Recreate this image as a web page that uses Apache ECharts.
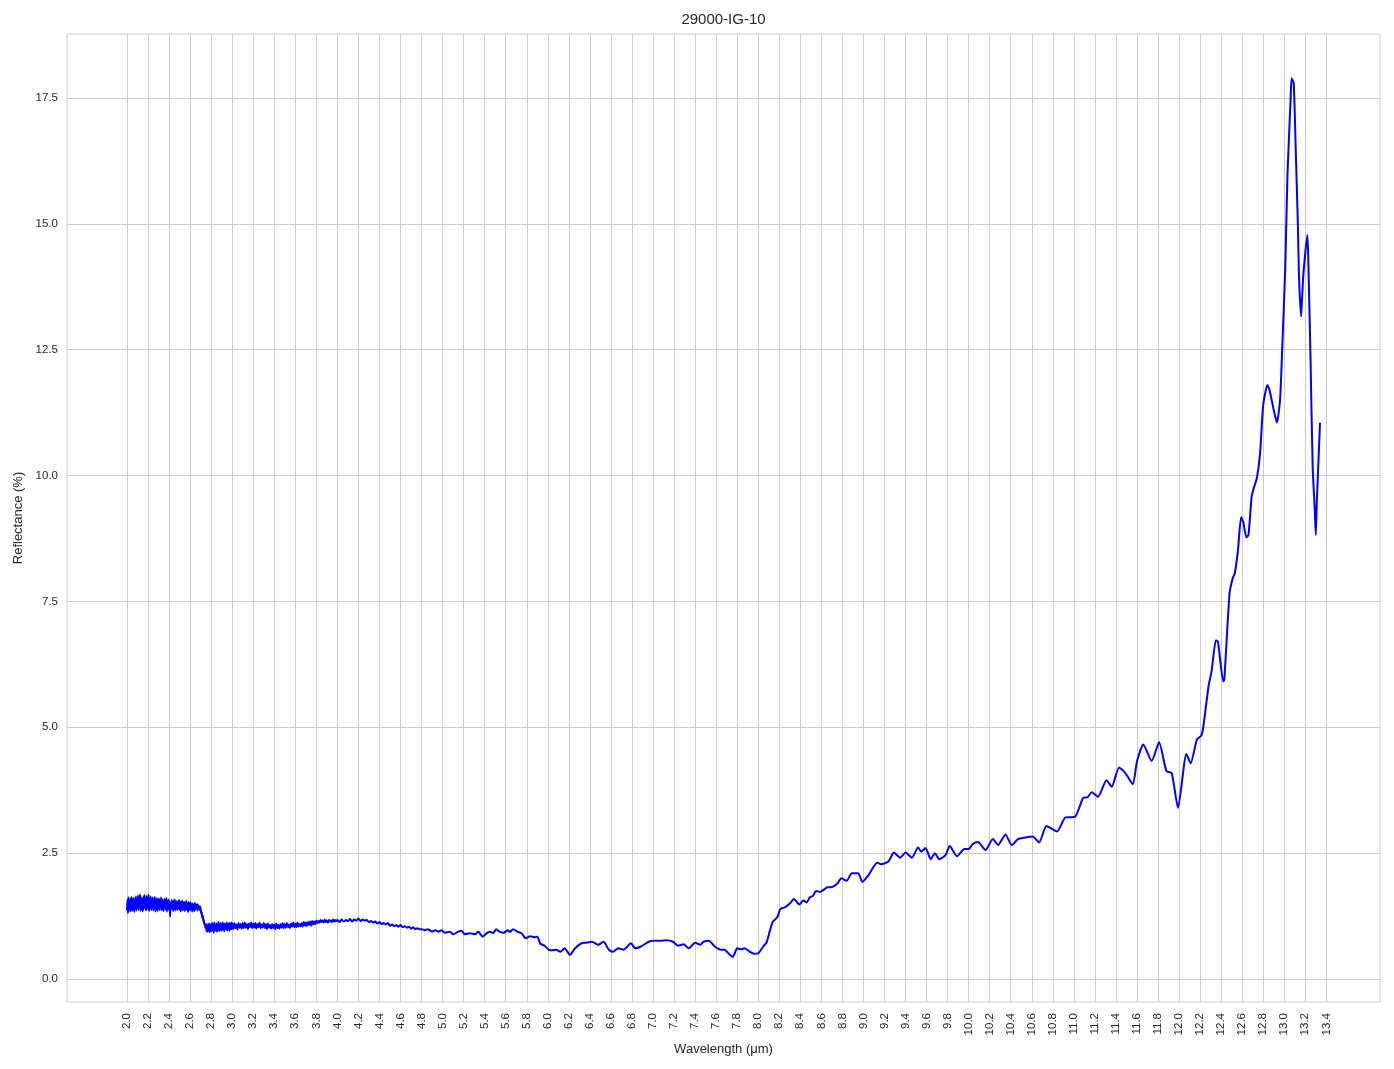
<!DOCTYPE html>
<html>
<head>
<meta charset="utf-8">
<script src="https://cdn.jsdelivr.net/npm/echarts@6/dist/echarts.min.js"></script>
<style>html,body{margin:0;padding:0;background:#fff}#c{width:1394px;height:1069px}</style>
</head>
<body>
<div id="c"></div>
<script>
const titleText = "29000-IG-10";
const xName = "Wavelength (μm)";
const yName = "Reflectance (%)";
const xTicks = [2.0,2.2,2.4,2.6,2.8,3.0,3.2,3.4,3.6,3.8,4.0,4.2,4.4,4.6,4.8,5.0,5.2,5.4,5.6,5.8,6.0,6.2,6.4,6.6,6.8,7.0,7.2,7.4,7.6,7.8,8.0,8.2,8.4,8.6,8.8,9.0,9.2,9.4,9.6,9.8,10.0,10.2,10.4,10.6,10.8,11.0,11.2,11.4,11.6,11.8,12.0,12.2,12.4,12.6,12.8,13.0,13.2,13.4];
const yTicks = [0.0,2.5,5.0,7.5,10.0,12.5,15.0,17.5];

const wlAStart = 2.0, wlAStep = 0.005;
const refA = [
1.36,1.58,1.31,1.62,1.40,1.55,1.34,1.60,1.38,1.63,
1.35,1.57,1.42,1.61,1.33,1.56,1.39,1.64,1.36,1.59,
1.41,1.66,1.37,1.60,1.44,1.68,1.35,1.62,1.40,1.57,
1.34,1.63,1.39,1.67,1.42,1.59,1.36,1.65,1.38,1.61,
1.43,1.68,1.35,1.60,1.40,1.64,1.37,1.58,1.44,1.62,
1.36,1.59,1.41,1.63,1.34,1.57,1.39,1.61,1.35,1.56,
1.40,1.60,1.37,1.55,1.42,1.62,1.36,1.58,1.39,1.54,
1.35,1.59,1.41,1.56,1.38,1.61,1.34,1.55,1.40,1.58,
1.37,1.54,1.24,1.50,1.38,1.57,1.41,1.53,1.35,1.56,
1.39,1.58,1.36,1.52,1.42,1.55,1.37,1.51,1.40,1.57,
1.38,1.54,1.34,1.50,1.41,1.56,1.36,1.52,1.39,1.53,
1.35,1.51,1.40,1.55,1.37,1.49,1.33,1.53,1.38,1.50,
1.36,1.52,1.40,1.48,1.34,1.50,1.39,1.47,1.35,1.51,
1.38,1.46,1.41,1.49,1.36,1.47,1.40,1.45,1.37,1.44,
1.40,1.30,1.33,1.22,1.26,1.15,1.18,1.08,1.10,1.02,
1.06,0.95,1.09,0.94,1.05,0.97,1.10,0.93,1.06,0.96,
1.09,0.95,1.11,0.98,1.07,0.92,1.12,0.97,1.05,0.96,
1.10,0.94,1.08,0.99,1.13,0.95,1.06,0.98,1.11,0.96,
1.07,0.97,1.12,0.99,1.09,0.95,1.10,1.00,1.08,0.98,
1.12,0.97,1.07,1.01,1.11,0.96,1.09,1.00,1.12,0.99];

// 3.00 - 3.99, sampled every 0.01 µm
const wlBStart = 3.0, wlBStep = 0.01;
const refB = [
1.10,0.99,1.11,1.01,1.08,0.98,1.11,1.02,1.09,1.00,
1.11,1.01,1.12,1.02,1.09,0.99,1.10,1.03,1.12,1.01,
1.10,1.02,1.11,1.00,1.09,1.03,1.12,1.01,1.08,1.02,
1.11,1.01,1.09,0.99,1.10,1.02,1.07,1.00,1.09,1.01,
1.08,0.99,1.10,1.01,1.07,1.00,1.09,1.02,1.11,1.01,
1.09,1.02,1.11,1.03,1.08,1.01,1.10,1.04,1.12,1.03,
1.10,1.03,1.12,1.04,1.09,1.05,1.11,1.04,1.13,1.06,
1.12,1.05,1.13,1.07,1.14,1.06,1.15,1.08,1.14,1.09,
1.16,1.11,1.15,1.12,1.17,1.13,1.16,1.12,1.18,1.13,
1.16,1.12,1.17,1.14,1.16,1.13,1.18,1.14,1.17,1.15];

// 4.00 - 4.78, sampled every 0.02 µm
const wlCStart = 4.0, wlCStep = 0.02;
const refC = [
1.17,1.13,1.18,1.14,1.17,1.15,1.19,1.14,1.18,1.16,
1.20,1.15,1.18,1.16,1.17,1.13,1.15,1.12,1.14,1.10,
1.13,1.09,1.11,1.08,1.11,1.06,1.08,1.05,1.07,1.04,
1.07,1.03,1.05,1.02,1.04,1.00,1.03,0.99,1.01,0.99];

// 4.80 - 13.34, irregular points
const wlD = [4.80,4.83,4.86,4.90,4.93,4.96,4.99,5.02,5.07,5.10,5.15,5.18,5.21,5.26,5.31,5.34,5.38,5.42,5.45,5.48,5.51,5.54,5.58,5.62,5.64,5.67,5.71,5.75,5.79,5.83,5.88,5.90,5.93,5.97,6.01,6.04,6.08,6.12,6.16,6.21,6.26,6.32,6.37,6.42,6.48,6.53,6.58,6.62,6.67,6.72,6.79,6.83,6.88,6.96,7.00,7.07,7.13,7.19,7.24,7.29,7.34,7.40,7.45,7.48,7.53,7.59,7.65,7.68,7.73,7.76,7.80,7.84,7.87,7.92,7.96,8.00,8.05,8.08,8.11,8.14,8.18,8.21,8.25,8.30,8.34,8.39,8.43,8.46,8.49,8.52,8.55,8.59,8.66,8.69,8.75,8.79,8.84,8.89,8.95,8.99,9.05,9.13,9.17,9.24,9.29,9.35,9.40,9.46,9.52,9.55,9.59,9.64,9.68,9.72,9.78,9.82,9.89,9.96,10.00,10.04,10.09,10.16,10.23,10.28,10.35,10.41,10.47,10.54,10.61,10.67,10.74,10.84,10.92,11.01,11.09,11.13,11.17,11.23,11.31,11.36,11.43,11.49,11.56,11.60,11.66,11.74,11.81,11.88,11.93,11.99,12.07,12.11,12.17,12.21,12.23,12.28,12.31,12.35,12.37,12.42,12.43,12.48,12.51,12.53,12.56,12.59,12.61,12.64,12.66,12.69,12.71,12.74,12.77,12.80,12.84,12.86,12.90,12.93,12.96,12.98,13.01,13.03,13.06,13.07,13.09,13.11,13.13,13.14,13.16,13.18,13.22,13.23,13.25,13.27,13.29,13.30,13.31,13.34];
const refD = [0.99,0.97,0.99,0.94,0.97,0.94,0.97,0.92,0.94,0.89,0.94,0.96,0.89,0.91,0.89,0.94,0.84,0.91,0.94,0.91,0.99,0.94,0.92,0.97,0.93,0.99,0.94,0.91,0.81,0.85,0.83,0.84,0.70,0.66,0.58,0.57,0.58,0.54,0.61,0.48,0.61,0.71,0.72,0.74,0.68,0.74,0.58,0.54,0.61,0.58,0.71,0.61,0.64,0.74,0.76,0.76,0.77,0.74,0.66,0.69,0.61,0.72,0.68,0.74,0.76,0.64,0.58,0.58,0.48,0.44,0.61,0.59,0.61,0.54,0.50,0.51,0.65,0.73,0.95,1.14,1.22,1.39,1.42,1.50,1.59,1.48,1.56,1.52,1.62,1.65,1.75,1.73,1.82,1.82,1.89,2.00,1.95,2.10,2.10,1.93,2.07,2.31,2.28,2.34,2.51,2.41,2.51,2.41,2.61,2.53,2.60,2.38,2.50,2.38,2.46,2.64,2.44,2.58,2.58,2.68,2.72,2.56,2.78,2.66,2.87,2.66,2.78,2.81,2.83,2.71,3.04,2.93,3.21,3.22,3.60,3.61,3.71,3.62,3.95,3.82,4.20,4.09,3.87,4.32,4.66,4.33,4.70,4.13,4.09,3.40,4.47,4.28,4.76,4.83,5.00,5.81,6.12,6.73,6.70,5.91,5.94,7.66,7.96,8.06,8.52,9.17,9.08,8.77,8.82,9.58,9.75,9.95,10.44,11.40,11.80,11.70,11.30,11.05,11.50,12.49,14.15,15.94,17.46,17.89,17.79,16.40,14.94,13.95,13.16,13.95,14.78,14.15,12.30,10.18,9.32,8.82,9.51,11.05];

const seriesData = []
  .concat(refA.map((v, i) => [+(wlAStart + i * wlAStep).toFixed(3), v]))
  .concat(refB.map((v, i) => [+(wlBStart + i * wlBStep).toFixed(3), v]))
  .concat(refC.map((v, i) => [+(wlCStart + i * wlCStep).toFixed(3), v]))
  .concat(wlD.map((w, i) => [w, refD[i]]));

const gridCol = '#cccccc';
const txtCol = '#262626';
const font = 'Liberation Sans, Arial, sans-serif';

const chart = echarts.init(document.getElementById('c'), null, {renderer: 'canvas'});
chart.setOption({
  backgroundColor: '#ffffff',
  animation: false,
  grid: {left: 67, right: 14, top: 34, bottom: 67, show: true, borderColor: gridCol, borderWidth: 1, backgroundColor: 'transparent'},
  xAxis: {
    type: 'value', min: 1.43, max: 13.91,
    name: xName, nameLocation: 'middle', nameGap: 39,
    nameTextStyle: {fontFamily: font, fontSize: 13, color: txtCol},
    axisLine: {show: false}, axisTick: {show: false}, splitLine: {show: false},
    axisLabel: {customValues: xTicks, rotate: 90, margin: 11, fontFamily: font, fontSize: 11.5, color: txtCol,
      formatter: v => v.toFixed(1)}
  },
  yAxis: {
    type: 'value', min: -0.457, max: 18.77,
    name: yName, nameLocation: 'middle', nameGap: 41,
    nameTextStyle: {fontFamily: font, fontSize: 13, color: txtCol},
    axisLine: {show: false}, axisTick: {show: false}, splitLine: {show: false},
    axisLabel: {customValues: yTicks, margin: 9, fontFamily: font, fontSize: 11.5, color: txtCol,
      formatter: v => v.toFixed(1)}
  },
  series: [
    {
      type: 'line', data: [[2.0, 1.0]], symbol: 'none', silent: true, z: 1,
      lineStyle: {width: 0, opacity: 0},
      markLine: {
        silent: true, symbol: ['none', 'none'], label: {show: false}, animation: false,
        lineStyle: {color: gridCol, width: 1, type: 'solid'},
        emphasis: {disabled: true},
        data: xTicks.map(v => ({xAxis: v})).concat(yTicks.map(v => ({yAxis: v})))
      }
    },
    {
      type: 'line', data: seriesData, symbol: 'none', z: 5, smooth: 0.2,
      lineStyle: {color: '#0000ff', width: 2}
    }
  ]
});
const cx = chart.convertToPixel({xAxisIndex: 0}, (1.43 + 13.91) / 2);
chart.setOption({graphic: [{type: 'text', x: cx, y: 20, z: 10,
  style: {text: titleText, font: '15px ' + font, fill: txtCol, textAlign: 'center', textVerticalAlign: 'middle'}}]});
</script>
</body>
</html>
